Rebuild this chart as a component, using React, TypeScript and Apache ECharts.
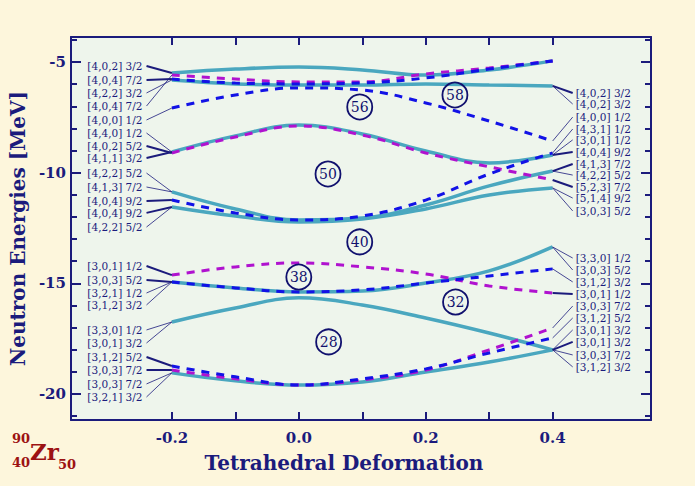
import React, { useEffect, useRef } from "react";
import * as echarts from "echarts";

// ---- data ----
const X = [-0.2, -0.1, 0, 0.1, 0.2, 0.3, 0.4];

// solid (cyan) levels
const cyanTop = [-5.5, -5.32, -5.23, -5.36, -5.59, -5.36, -4.95];
const cyanFlat = [-5.81, -5.99, -6.04, -6.04, -5.99, -6.04, -6.08];
const cyan50Top = [-9.07, -8.34, -7.85, -8.25, -9.02, -9.56, -9.2];
const cyan40a = [-10.87, -11.64, -12.14, -12.05, -11.46, -10.6, -9.93];
const cyan40b = [-11.55, -11.96, -12.23, -12.1, -11.64, -11.01, -10.69];
const cyan38 = [-14.94, -15.21, -15.39, -15.35, -14.99, -14.44, -13.36];
const cyan28Top = [-16.75, -16.12, -15.66, -15.98, -16.57, -17.25, -18.01];
const cyan28Bot = [-19.05, -19.41, -19.6, -19.46, -19.01, -18.56, -18.01];

// blue dashed levels
const blueTop = [-5.77, -5.95, -5.99, -5.95, -5.72, -5.32, -4.95];
const blue56 = [-7.08, -6.49, -6.17, -6.27, -6.85, -7.67, -8.57];
const blue40 = [-11.24, -11.82, -12.14, -11.96, -11.24, -10.06, -9.11];
const blue38 = [-14.94, -15.21, -15.39, -15.3, -14.99, -14.67, -14.35];
const blue28 = [-18.74, -19.23, -19.6, -19.32, -18.87, -18.15, -17.47];

// magenta dashed levels
const magTop = [-5.59, -5.77, -5.9, -5.9, -5.54, -5.27, -4.95];
const mag50 = [-9.11, -8.39, -7.89, -8.3, -9.11, -9.74, -10.33];
const mag38 = [-14.63, -14.26, -14.08, -14.26, -14.58, -15.12, -15.44];
const mag28 = [-18.92, -19.32, -19.6, -19.37, -18.92, -18.01, -17.02];

const curves: Record<string, number[]> = {
  cyanTop, cyanFlat, cyan50Top, cyan40a, cyan40b, cyan38, cyan28Top, cyan28Bot,
  blueTop, blue56, blue40, blue38, blue28,
  magTop, mag50, mag38, mag28,
};
const cyanNames = ["cyanTop", "cyanFlat", "cyan50Top", "cyan40a", "cyan40b", "cyan38", "cyan28Top", "cyan28Bot"];
const blueNames = ["blueTop", "blue56", "blue40", "blue38", "blue28"];
const magNames = ["magTop", "mag50", "mag38", "mag28"];

// left labels (at deformation -0.2)
const leftLabels = [
  "[4,0,2] 3/2", "[4,0,4] 7/2", "[4,2,2] 3/2", "[4,0,4] 7/2", "[4,0,0] 1/2",
  "[4,4,0] 1/2", "[4,0,2] 5/2", "[4,1,1] 3/2", "[4,2,2] 5/2", "[4,1,3] 7/2",
  "[4,0,4] 9/2", "[4,0,4] 9/2", "[4,2,2] 5/2",
  "[3,0,1] 1/2", "[3,0,3] 5/2", "[3,2,1] 1/2", "[3,1,2] 3/2",
  "[3,3,0] 1/2", "[3,0,1] 3/2", "[3,1,2] 5/2", "[3,0,3] 7/2", "[3,0,3] 7/2", "[3,2,1] 3/2",
];
const leftLabelE = [
  -5.18, -5.81, -6.4, -6.99, -7.62, -8.21, -8.8, -9.34, -10.02, -10.65, -11.28, -11.82, -12.46,
  -14.22, -14.85, -15.44, -15.98, -17.11, -17.7, -18.33, -18.92, -19.55, -20.14,
];
const leftTargets = [
  "cyanTop", "blueTop", "cyanFlat", "magTop", "blue56", "cyan50Top", "mag50", "cyan50Top",
  "cyan40a", "cyan40a", "blue40", "cyan40b", "cyan40b",
  "mag38", "cyan38", "blue38", "cyan38", "cyan28Top", "cyan28Top", "blue28", "mag28", "cyan28Bot", "cyan28Bot",
];
const leftThick = [1, 1, 0, 0, 0, 0, 1, 1, 0, 0, 1, 1, 0, 1, 1, 0, 0, 0, 0, 1, 1, 0, 0];

// right labels (at deformation 0.4)
const rightLabels = [
  "[4,0,2] 3/2", "[4,0,2] 3/2", "[4,0,0] 1/2", "[4,3,1] 1/2", "[3,0,1] 1/2", "[4,0,4] 9/2",
  "[4,1,3] 7/2", "[4,2,2] 5/2", "[5,2,3] 7/2", "[5,1,4] 9/2", "[3,0,3] 5/2",
  "[3,3,0] 1/2", "[3,0,3] 5/2", "[3,1,2] 3/2", "[3,0,1] 1/2", "[3,0,3] 7/2",
  "[3,1,2] 5/2", "[3,0,1] 3/2", "[3,0,1] 3/2", "[3,0,3] 7/2", "[3,1,2] 3/2",
];
const rightLabelE = [
  -6.4, -6.9, -7.49, -8.03, -8.52, -9.07, -9.61, -10.11, -10.65, -11.15, -11.73,
  -13.86, -14.4, -14.94, -15.48, -16.03, -16.57, -17.11, -17.65, -18.24, -18.78,
];
const rightTargets = [
  "cyanFlat", "cyanFlat", "blue56", "blue40", "cyan50Top", "cyan50Top", "cyan40a", "cyan40a",
  "mag50", "cyan40b", "cyan40b", "cyan38", "cyan38", "blue38", "mag38", "mag28", "blue28",
  "cyan28Bot", "cyan28Top", "cyan28Bot", "cyan28Top",
];
const rightThick = [1, 0, 0, 0, 0, 1, 1, 0, 1, 0, 0, 0, 0, 0, 1, 0, 0, 0, 1, 0, 0];

// circled magic numbers
const magicNumbers = ["56", "58", "50", "40", "38", "32", "28"];
const magicX = [0.096, 0.246, 0.046, 0.096, 0.0, 0.247, 0.047];
const magicE = [-7.03, -6.49, -10.06, -13.13, -14.72, -15.85, -17.65];

const xTickValues = [-0.2, -0.1, 0, 0.1, 0.2, 0.3, 0.4];
const xLabelValues = [-0.2, 0, 0.2, 0.4];
const yMajor = [-20, -15, -10, -5];
const yMinor = [-21, -19, -18, -17, -16, -14, -13, -12, -11, -9, -8, -7, -6, -4];

// ---- styling constants ----
const NAVY = "#1b1b7c";
const CYAN = "#4aa7bf";
const BLUE = "#1212e6";
const MAG = "#b012cf";
const FONT = '"DejaVu Serif", serif';
const X_MIN = -0.359;
const X_MAX = 0.555;
const Y_MIN = -21.18;
const Y_MAX = -3.87;
const LEFT_ANCHOR = -0.24;
const RIGHT_ANCHOR = 0.4316;

export default function App() {
  const ref = useRef<HTMLDivElement>(null);
  useEffect(() => {
    if (!ref.current) return;
    const chart = echarts.init(ref.current, undefined, { renderer: "svg" });

    const mkData = (vals: number[]) => X.map((x, i) => [x, vals[i]]);
    const lineSeries: any[] = [];
    cyanNames.forEach((n) =>
      lineSeries.push({
        type: "line", name: n, data: mkData(curves[n]), smooth: 0.4, symbol: "none",
        lineStyle: { color: CYAN, width: 3.5 }, z: 2,
      })
    );
    magNames.forEach((n) =>
      lineSeries.push({
        type: "line", name: n, data: mkData(curves[n]), smooth: 0.4, symbol: "none",
        lineStyle: { color: MAG, width: 3, type: [8, 7] }, z: 3,
      })
    );
    blueNames.forEach((n) =>
      lineSeries.push({
        type: "line", name: n, data: mkData(curves[n]), smooth: 0.4, symbol: "none",
        lineStyle: { color: BLUE, width: 3, type: [8, 7] }, z: 4,
      })
    );

    const allLabels: string[] = [];
    const labelData: number[][] = [];
    leftLabels.forEach((t, i) => {
      allLabels.push(t);
      const c = curves[leftTargets[i]];
      labelData.push([LEFT_ANCHOR, leftLabelE[i], X[0], c[0], leftThick[i], 0]);
    });
    rightLabels.forEach((t, i) => {
      allLabels.push(t);
      const c = curves[rightTargets[i]];
      labelData.push([RIGHT_ANCHOR, rightLabelE[i], X[X.length - 1], c[c.length - 1], rightThick[i], 1]);
    });

    const labelSeries = {
      type: "custom",
      data: labelData,
      clip: false,
      z: 5,
      renderItem: (params: any, api: any) => {
        const a = api.coord([api.value(0), api.value(1)]);
        const b = api.coord([api.value(2), api.value(3)]);
        const side = api.value(5);
        const thick = api.value(4);
        return {
          type: "group",
          children: [
            {
              type: "line",
              shape: { x1: a[0], y1: a[1], x2: b[0], y2: b[1] },
              style: { stroke: NAVY, lineWidth: thick ? 2 : 0.8 },
            },
            {
              type: "text",
              x: side === 0 ? a[0] - 4 : a[0] + 3,
              y: a[1],
              style: {
                text: allLabels[params.dataIndex],
                fill: NAVY,
                font: `10.5px ${FONT}`,
                lineHeight: 11,
                align: side === 0 ? "right" : "left",
                verticalAlign: "middle",
              },
            },
          ],
        };
      },
    };

    const magicSeries = {
      type: "scatter",
      data: magicNumbers.map((m, i) => [magicX[i], magicE[i], m]),
      symbol: "circle",
      symbolSize: 25,
      z: 6,
      itemStyle: { color: "rgba(0,0,0,0)", borderColor: "#10106e", borderWidth: 1.8, opacity: 1 },
      label: {
        show: true,
        position: "inside",
        formatter: (p: any) => p.value[2],
        color: "#10106e",
        fontFamily: FONT,
        fontSize: 14,
      },
    };

    const axisLineStyle = { color: NAVY, width: 2 };
    const baseX = {
      type: "value",
      min: X_MIN,
      max: X_MAX,
      splitLine: { show: false },
      axisLine: { show: true, onZero: false, lineStyle: axisLineStyle },
      axisTick: { show: true, inside: true, length: 8, customValues: xTickValues, lineStyle: axisLineStyle },
    };
    const baseY = {
      type: "value",
      min: Y_MIN,
      max: Y_MAX,
      splitLine: { show: false },
    };

    chart.setOption({
      animation: false,
      backgroundColor: "#fdf6dc",
      grid: { left: 66, right: 44, top: 37, bottom: 66, show: true, backgroundColor: "#eef5ec", borderWidth: 0 },
      xAxis: [
        {
          ...baseX,
          position: "bottom",
          axisLabel: {
            customValues: xLabelValues,
            formatter: (v: number) => v.toFixed(1),
            color: NAVY, fontFamily: FONT, fontWeight: "bold", fontSize: 15, margin: 10,
          },
          name: "Tetrahedral Deformation",
          nameLocation: "middle",
          nameGap: 33,
          nameTextStyle: { color: NAVY, fontFamily: FONT, fontWeight: "bold", fontSize: 20, padding: [0, 34, 0, 0] },
        },
        { ...baseX, position: "top", axisLabel: { show: false } },
      ],
      yAxis: [
        {
          ...baseY,
          position: "left",
          axisLine: { show: true, onZero: false, lineStyle: axisLineStyle },
          axisTick: { show: true, inside: true, length: 10, customValues: yMajor, lineStyle: axisLineStyle },
          axisLabel: {
            customValues: yMajor,
            formatter: (v: number) => String(v),
            color: NAVY, fontFamily: FONT, fontWeight: "bold", fontSize: 15, margin: 5,
          },
          name: "Neutron Energies [MeV]",
          nameLocation: "middle",
          nameGap: 38,
          nameTextStyle: { color: NAVY, fontFamily: FONT, fontWeight: "bold", fontSize: 20 },
        },
        {
          ...baseY,
          position: "left",
          axisLine: { show: false, onZero: false },
          axisTick: { show: true, inside: true, length: 6, customValues: yMinor, lineStyle: axisLineStyle },
          axisLabel: { show: false },
        },
        {
          ...baseY,
          position: "right",
          axisLine: { show: true, onZero: false, lineStyle: axisLineStyle },
          axisTick: { show: true, inside: true, length: 10, customValues: yMajor, lineStyle: axisLineStyle },
          axisLabel: { show: false },
        },
        {
          ...baseY,
          position: "right",
          axisLine: { show: false, onZero: false },
          axisTick: { show: true, inside: true, length: 6, customValues: yMinor, lineStyle: axisLineStyle },
          axisLabel: { show: false },
        },
      ],
      graphic: [
        { type: "text", left: 12, top: 432, style: { text: "90", fill: "#9c1212", font: `bold 13px ${FONT}` } },
        { type: "text", left: 12, top: 456, style: { text: "40", fill: "#9c1212", font: `bold 13px ${FONT}` } },
        { type: "text", left: 30, top: 440, style: { text: "Zr", fill: "#9c1212", font: `bold 23px ${FONT}` } },
        { type: "text", left: 58, top: 458, style: { text: "50", fill: "#9c1212", font: `bold 13px ${FONT}` } },
      ],
      series: [...lineSeries, labelSeries, magicSeries],
    });
    return () => chart.dispose();
  }, []);
  return <div ref={ref} style={{ position: "absolute", left: 0, top: 0, width: 695, height: 486 }} />;
}
